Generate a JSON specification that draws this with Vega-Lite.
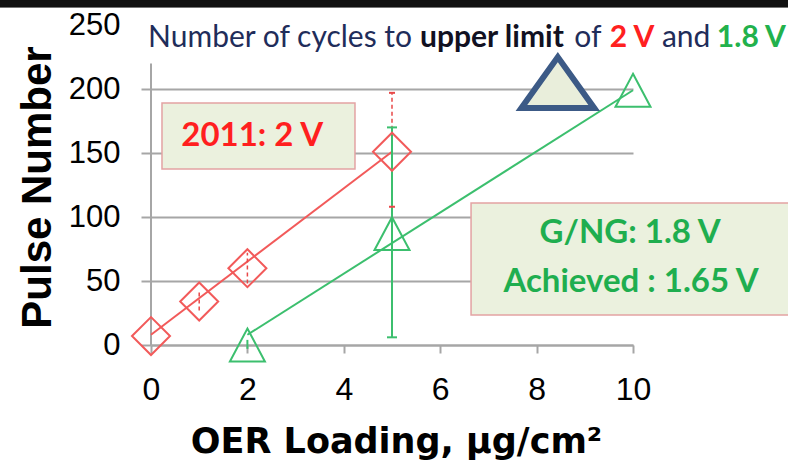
{
  "$schema": "https://vega.github.io/schema/vega-lite/v6.json",
  "width": 482,
  "height": 320,
  "autosize": {"type": "none"},
  "padding": {"left": 151, "top": 25, "right": 155, "bottom": 117},
  "background": "white",
  "config": {"view": {"stroke": null}},
  "datasets": {
    "points": [
      {"series": "2 V", "x": 0, "y": 7},
      {"series": "2 V", "x": 1, "y": 34},
      {"series": "2 V", "x": 2, "y": 60},
      {"series": "2 V", "x": 5, "y": 151},
      {"series": "1.8 V", "x": 2, "y": 0},
      {"series": "1.8 V", "x": 5, "y": 87},
      {"series": "1.8 V", "x": 10, "y": 199}
    ],
    "fits": [
      {"series": "2 V", "x": 0, "y": 8},
      {"series": "2 V", "x": 5, "y": 151},
      {"series": "1.8 V", "x": 2, "y": 8},
      {"series": "1.8 V", "x": 10, "y": 199}
    ],
    "errs": [
      {"series": "2 V", "x": 1, "y": 27, "y2": 41},
      {"series": "2 V", "x": 2, "y": 48, "y2": 72},
      {"series": "2 V", "x": 5, "y": 108, "y2": 197},
      {"series": "1.8 V", "x": 2, "y": -3, "y2": 4},
      {"series": "1.8 V", "x": 5, "y": 6, "y2": 170}
    ],
    "caps": [
      {"series": "2 V", "x": 5, "y": 108},
      {"series": "2 V", "x": 5, "y": 197},
      {"series": "1.8 V", "x": 5, "y": 6},
      {"series": "1.8 V", "x": 5, "y": 170}
    ],
    "boxes": [
      {"box": "2011", "x": 0.228, "x2": 4.232, "y": 137.5, "y2": 189.1},
      {"box": "G/NG", "x": 6.64, "x2": 13.5, "y": 23.4, "y2": 110.9},
      {"box": "edge", "x": -3.3, "x2": 13.5, "y": 264, "y2": 269.5}
    ],
    "notes": [
      {"text": "2011: 2 V", "x": 2.1, "y": 155.5, "kind": "red"},
      {"text": "G/NG: 1.8 V", "x": 9.94, "y": 79.7, "kind": "green"},
      {"text": "Achieved : 1.65 V", "x": 9.96, "y": 41.4, "kind": "green"}
    ],
    "heads": [
      {"text": "Number of cycles to", "x": -0.06, "y": 232.8, "kind": "plain"},
      {"text": "upper limit", "x": 5.58, "y": 232.8, "kind": "bold"},
      {"text": "of", "x": 8.78, "y": 232.8, "kind": "plain"},
      {"text": "2 V", "x": 9.52, "y": 232.8, "kind": "red"},
      {"text": "and", "x": 10.6, "y": 232.8, "kind": "plain"},
      {"text": "1.8 V", "x": 11.74, "y": 232.8, "kind": "green"}
    ],
    "target": [{"x": 8.44, "y": 205}],
    "vaxis": [{"x": 0, "y": 0, "y2": 220}]
  },
  "encoding": {
    "x": {
      "field": "x",
      "type": "quantitative",
      "scale": {"domain": [0, 10], "nice": false, "zero": false},
      "axis": {
        "values": [0, 2, 4, 6, 8, 10],
        "grid": false,
        "domainColor": "#a6a6a6",
        "domainWidth": 2,
        "tickColor": "#a6a6a6",
        "tickWidth": 2,
        "tickSize": 8,
        "labelFont": "Liberation Sans",
        "labelFontSize": 32,
        "labelColor": "#000000",
        "labelPadding": 21,
        "labelFlush": false,
        "labelOverlap": false,
        "title": "OER Loading, µg/cm²",
        "titleFont": "DejaVu Sans",
        "titleFontSize": 35,
        "titleFontWeight": "bold",
        "titleColor": "#000000",
        "titleX": 245,
        "titleY": 107,
        "titleAlign": "center",
        "titleBaseline": "alphabetic"
      }
    },
    "y": {
      "field": "y",
      "type": "quantitative",
      "scale": {"domain": [0, 250], "nice": false, "zero": false},
      "axis": {
        "values": [0, 50, 100, 150, 200, 250],
        "grid": true,
        "gridColor": "#a6a6a6",
        "gridWidth": 2,
        "gridOpacity": {"condition": {"test": "datum.value === 250", "value": 0}, "value": 1},
        "domain": false,
        "tickColor": "#a6a6a6",
        "tickWidth": 2,
        "tickSize": 10,
        "tickOpacity": {"condition": {"test": "datum.value === 250", "value": 0}, "value": 1},
        "labelFont": "Liberation Sans",
        "labelFontSize": 31,
        "labelColor": "#000000",
        "labelPadding": 21,
        "labelFlush": false,
        "labelOverlap": false,
        "title": "Pulse Number",
        "titleFont": "Liberation Sans",
        "titleFontSize": 42,
        "titleFontWeight": "bold",
        "titleColor": "#000000",
        "titleX": -101,
        "titleY": 162,
        "titleAngle": 270,
        "titleAlign": "center",
        "titleBaseline": "alphabetic"
      }
    }
  },
  "layer": [
    {
      "data": {"name": "vaxis"},
      "mark": {"type": "rule", "color": "#a6a6a6", "strokeWidth": 2},
      "encoding": {"y2": {"field": "y2"}}
    },
    {
      "data": {"name": "boxes"},
      "transform": [{"filter": "datum.box !== 'edge'"}],
      "mark": {"type": "rect", "fill": "#ebf1de", "stroke": "#e3a3a3", "strokeWidth": 1.5},
      "encoding": {"x2": {"field": "x2"}, "y2": {"field": "y2"}}
    },
    {
      "data": {"name": "boxes"},
      "transform": [{"filter": "datum.box === 'edge'"}],
      "mark": {"type": "rect", "fill": "#111111", "stroke": "#111111", "strokeWidth": 1},
      "encoding": {"x2": {"field": "x2"}, "y2": {"field": "y2"}}
    },
    {
      "data": {"name": "fits"},
      "transform": [{"filter": "datum.series === '2 V'"}],
      "mark": {"type": "line", "color": "#f25a5a", "strokeWidth": 2}
    },
    {
      "data": {"name": "fits"},
      "transform": [{"filter": "datum.series === '1.8 V'"}],
      "mark": {"type": "line", "color": "#3cbf6e", "strokeWidth": 2}
    },
    {
      "data": {"name": "errs"},
      "transform": [{"filter": "datum.series === '2 V'"}],
      "mark": {"type": "rule", "color": "#e84848", "strokeWidth": 1.5, "strokeDash": [4, 3]},
      "encoding": {"y2": {"field": "y2"}}
    },
    {
      "data": {"name": "errs"},
      "transform": [{"filter": "datum.series === '1.8 V'"}],
      "mark": {"type": "rule", "color": "#3cbf6e", "strokeWidth": 2},
      "encoding": {"y2": {"field": "y2"}}
    },
    {
      "data": {"name": "caps"},
      "transform": [{"filter": "datum.series === '2 V'"}],
      "mark": {"type": "tick", "orient": "horizontal", "color": "#e84848", "size": 6, "thickness": 2, "opacity": 1}
    },
    {
      "data": {"name": "caps"},
      "transform": [{"filter": "datum.series === '1.8 V'"}],
      "mark": {"type": "tick", "orient": "horizontal", "color": "#3cbf6e", "size": 10, "thickness": 2, "opacity": 1}
    },
    {
      "data": {"name": "points"},
      "transform": [{"filter": "datum.series === '2 V'"}],
      "mark": {"type": "point", "shape": "diamond", "size": 1444, "filled": false, "stroke": "#f25a5a", "strokeWidth": 2, "opacity": 1}
    },
    {
      "data": {"name": "points"},
      "transform": [{"filter": "datum.series === '1.8 V'"}],
      "mark": {"type": "point", "shape": "M0,-0.94L1,0.94L-1,0.94Z", "size": 1225, "filled": false, "stroke": "#3cbf6e", "strokeWidth": 2, "opacity": 1}
    },
    {
      "data": {"name": "target"},
      "mark": {"type": "point", "shape": "M0,-0.7L1,0.7L-1,0.7Z", "size": 5300, "filled": true, "fill": "#e9eedb", "stroke": "#3c5a86", "strokeWidth": 6, "opacity": 1, "fillOpacity": 1, "strokeJoin": "miter"}
    },
    {
      "data": {"name": "notes"},
      "transform": [{"filter": "datum.kind === 'red'"}],
      "mark": {"type": "text", "font": "Lato", "fontWeight": "bold", "fontSize": 33, "color": "#ff1f1f", "align": "center", "baseline": "alphabetic"},
      "encoding": {"text": {"field": "text"}}
    },
    {
      "data": {"name": "notes"},
      "transform": [{"filter": "datum.kind === 'green'"}],
      "mark": {"type": "text", "font": "Lato", "fontWeight": "bold", "fontSize": 33, "color": "#1fae4f", "align": "center", "baseline": "alphabetic"},
      "encoding": {"text": {"field": "text"}}
    },
    {
      "data": {"name": "heads"},
      "transform": [{"filter": "datum.kind === 'plain'"}],
      "mark": {"type": "text", "font": "Lato", "fontSize": 30, "color": "#1f2d5a", "align": "left", "baseline": "alphabetic"},
      "encoding": {"text": {"field": "text"}}
    },
    {
      "data": {"name": "heads"},
      "transform": [{"filter": "datum.kind === 'bold'"}],
      "mark": {"type": "text", "font": "Lato", "fontWeight": "bold", "fontSize": 30, "color": "#111122", "align": "left", "baseline": "alphabetic"},
      "encoding": {"text": {"field": "text"}}
    },
    {
      "data": {"name": "heads"},
      "transform": [{"filter": "datum.kind === 'red'"}],
      "mark": {"type": "text", "font": "Lato", "fontWeight": "bold", "fontSize": 30, "color": "#ff2020", "align": "left", "baseline": "alphabetic"},
      "encoding": {"text": {"field": "text"}}
    },
    {
      "data": {"name": "heads"},
      "transform": [{"filter": "datum.kind === 'green'"}],
      "mark": {"type": "text", "font": "Lato", "fontWeight": "bold", "fontSize": 30, "color": "#22b14c", "align": "left", "baseline": "alphabetic"},
      "encoding": {"text": {"field": "text"}}
    }
  ]
}
